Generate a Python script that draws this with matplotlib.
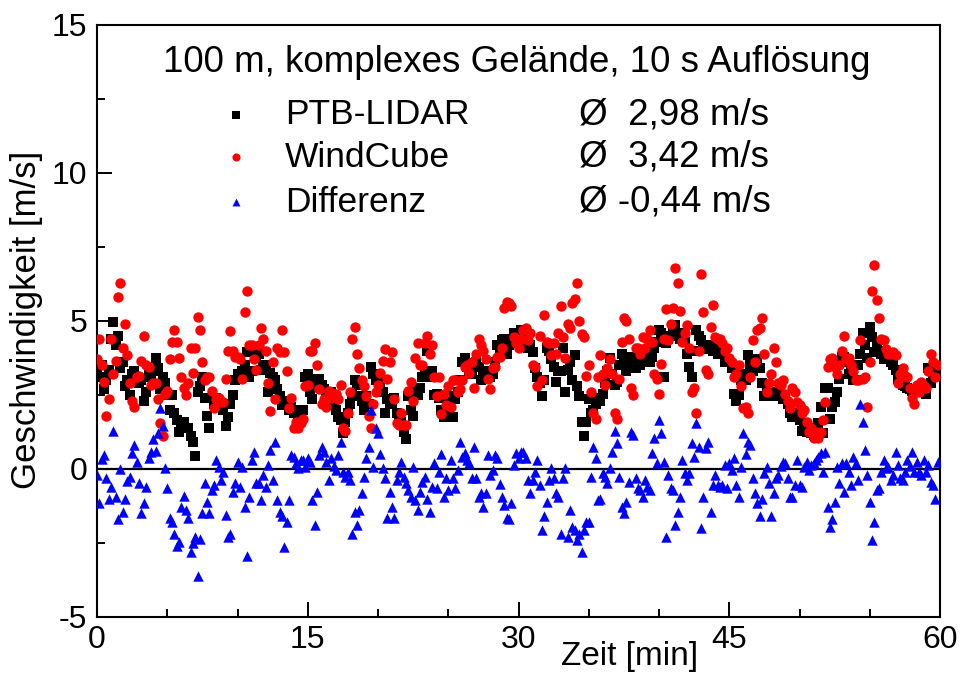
import numpy as np
import matplotlib
matplotlib.use("Agg")
import matplotlib.pyplot as plt
from matplotlib.ticker import MultipleLocator

plt.rcParams['font.family'] = ['Liberation Sans', 'DejaVu Sans']
plt.rcParams['axes.unicode_minus'] = False

# ---- data: 10 s resolution, 6 samples per minute ----
minutes = 60
samples_per_min = 6

ptb_lidar = [
    3.3, 3.1, 3.5, 2.7, 3.0, 3.35,   4.4, 4.97, 4.2, 4.5, 3.4, 3.6,
    2.8, 3.0, 2.5, 3.2, 3.3, 3.0,    2.9, 3.0, 2.3, 2.6, 3.2, 3.1,
    3.3, 3.75, 3.4, 2.7, 3.1, 2.9,   2.5, 2.0, 2.5, 1.9, 1.65, 1.25,
    1.55, 1.6, 1.4, 1.4, 1.1, 0.9,   0.45, 2.6, 2.8, 3.1, 2.4, 1.8,
    1.4, 2.4, 2.2, 2.4, 2.1, 2.2,    2.0, 1.45, 1.75, 2.2, 2.5, 3.0,
    3.2, 3.1, 3.3, 3.5, 3.95, 3.1,   3.3, 3.95, 3.75, 3.9, 3.35, 3.5,
    3.5, 2.6, 3.25, 3.1, 3.0, 2.7,   2.45, 2.15, 2.3, 2.2, 2.0, 2.1,
    1.9, 2.0, 1.8, 1.7, 2.0, 3.1,    3.2, 2.6, 2.35, 2.9, 3.05, 3.05,
    2.85, 2.7, 2.6, 2.4, 2.6, 2.3,   2.0, 1.75, 1.65, 1.2, 1.6, 1.9,
    2.2, 2.5, 3.0, 2.85, 2.45, 2.3,  2.0, 2.45, 2.2, 3.45, 3.2, 3.0,
    3.2, 2.9, 2.6, 1.9, 2.35, 2.2,   2.2, 2.4, 1.9, 1.7, 1.6, 1.25,
    1.0, 2.45, 2.0, 1.8, 2.75, 2.5,  2.75, 3.1, 3.25, 4.0, 3.1, 3.3,
    2.5, 2.55, 2.4, 2.0, 1.75, 1.9,  2.2, 2.45, 1.75, 2.35, 2.6, 3.0,
    3.6, 3.75, 3.45, 3.35, 3.2, 3.45, 3.6, 3.45, 3.0, 3.25, 3.3, 3.1,
    3.1, 3.2, 3.6, 4.2, 4.0, 4.35,   4.4, 3.9, 4.2, 4.3, 4.6, 4.5,
    4.6, 4.7, 4.4, 4.3, 4.1, 4.2,    3.95, 3.4, 3.1, 2.9, 2.45, 3.0,
    4.1, 4.0, 3.7, 3.45, 2.95, 3.3,  3.3, 4.1, 2.6, 3.35, 3.6, 3.0,
    3.85, 2.8, 2.45, 1.6, 1.1, 1.6,  2.35, 1.9, 2.0, 2.2, 2.4, 2.3,
    2.55, 2.9, 3.3, 3.75, 3.2, 2.85, 2.95, 3.5, 3.9, 3.6, 3.3, 3.8,
    3.8, 3.6, 3.4, 3.7, 3.5, 3.75,   3.75, 3.9, 3.6, 3.8, 4.1, 4.3,
    4.7, 4.6, 3.1, 4.25, 4.4, 4.5,   4.7, 4.85, 4.6, 4.4, 4.6, 4.3,
    3.9, 3.45, 3.1, 4.0, 4.7, 4.5,   4.35, 4.2, 4.1, 4.05, 4.2, 4.0,
    4.1, 3.9, 4.2, 3.9, 3.6, 3.7,    3.6, 3.4, 2.55, 2.3, 2.5, 3.0,
    3.2, 3.0, 3.85, 3.5, 3.3, 3.5,   3.7, 3.4, 2.9, 2.45, 2.6, 2.45,
    2.45, 2.55, 2.6, 2.45, 2.5, 2.35, 2.35, 2.2, 1.9, 1.75, 1.8, 1.9,
    1.65, 1.3, 1.5, 1.25, 1.4, 1.2,  1.15, 1.3, 1.55, 2.1, 1.2, 2.75,
    2.75, 1.7, 2.1, 2.25, 2.6, 3.05, 3.8, 3.8, 3.6, 3.2, 3.3, 3.0,
    3.0, 3.5, 3.9, 4.6, 4.2, 3.75,   4.8, 4.45, 3.95, 4.25, 4.0, 3.9,
    3.7, 3.8, 3.9, 3.6, 3.5, 3.35,   3.05, 3.0, 2.85, 2.8, 2.75, 2.7,
    2.65, 2.7, 2.65, 2.6, 2.75, 2.6, 2.55, 3.4, 2.9, 3.1, 3.3, 3.2,
]

windcube = [
    3.7, 4.4, 3.5, 2.95, 1.8, 2.35,  4.4, 3.2, 3.65, 5.8, 6.3, 4.1,
    4.9, 3.85, 2.9, 2.3, 2.1, 3.1,   3.15, 3.65, 4.5, 3.5, 3.45, 2.85,
    2.9, 2.9, 2.35, 1.55, 1.1, 2.55, 2.65, 3.7, 4.3, 4.7, 4.3, 3.75,
    3.1, 2.75, 2.5, 2.9, 4.1, 3.25,  4.1, 5.15, 4.7, 3.6, 3.0, 3.1,
    3.1, 2.65, 2.05, 2.35, 2.4, 2.25, 2.25, 3.05, 4.0, 4.65, 4.0, 3.8,
    3.8, 3.7, 3.05, 5.3, 6.0, 4.2,   4.2, 3.7, 3.35, 4.2, 4.75, 4.4,
    4.0, 2.9, 1.95, 3.6, 2.35, 4.1,  3.95, 4.7, 3.95, 3.3, 2.05, 2.4,
    1.4, 1.6, 1.4, 1.55, 1.7, 2.8,   2.85, 4.0, 4.0, 4.25, 3.5, 2.7,
    2.2, 2.35, 2.1, 2.65, 2.4, 2.55, 2.55, 2.35, 2.85, 1.4, 1.3, 1.9,
    2.6, 4.4, 4.8, 3.9, 3.4, 3.0,    2.8, 2.45, 1.8, 1.4, 2.2, 2.6,
    2.85, 3.25, 3.65, 4.05, 3.05, 3.6, 3.95, 2.35, 1.55, 1.5, 1.9, 1.5,
    1.5, 2.65, 2.95, 2.3, 3.75, 4.25, 3.5, 3.5, 4.25, 4.5, 3.9, 4.2,
    3.1, 2.45, 3.1, 1.85, 2.55, 2.15, 2.8, 2.1, 3.0, 3.0, 2.6, 2.7,
    3.0, 3.45, 3.5, 3.25, 3.6, 2.75, 3.9, 4.4, 4.2, 4.0, 3.7, 3.05,
    2.7, 3.4, 3.45, 3.8, 3.8, 4.1,   5.45, 5.65, 5.6, 5.5, 4.45, 4.25,
    4.1, 4.4, 4.7, 4.75, 4.35, 4.6,  3.5, 3.45, 2.8, 4.5, 3.0, 5.2,
    4.3, 4.25, 3.85, 4.25, 3.9, 4.6, 5.5, 4.45, 3.75, 4.9, 4.75, 5.6,
    5.75, 6.3, 5.0, 4.55, 4.45, 3.15, 3.5, 2.6, 1.9, 1.7, 3.1, 3.85,
    3.2, 2.85, 3.4, 3.7, 3.2, 1.9,   1.7, 3.05, 4.3, 5.1, 5.0, 4.4,
    2.75, 2.5, 4.1, 4.1, 3.9, 4.45,  4.1, 4.4, 4.7, 4.3, 3.2, 3.05,
    2.55, 3.55, 4.4, 5.4, 4.35, 4.9, 5.45, 6.8, 6.3, 5.35, 4.3, 4.6,
    4.85, 4.1, 2.6, 2.75, 1.9, 4.0,  6.6, 5.3, 3.35, 3.2, 4.8, 5.55,
    4.45, 4.4, 4.4, 4.25, 4.0, 4.1,  3.75, 3.6, 3.1, 3.2, 3.5, 2.8,
    2.05, 2.1, 1.9, 3.1, 4.35, 3.6,  4.7, 4.75, 5.1, 3.9, 2.6, 2.9,
    3.2, 4.1, 3.6, 2.9, 2.85, 3.0,   2.55, 2.3, 2.05, 2.75, 2.6, 2.25,
    2.15, 1.9, 2.0, 1.6, 1.25, 1.4,  1.05, 1.25, 1.05, 1.25, 1.65, 2.25,
    3.45, 3.7, 3.75, 3.45, 3.2, 3.5, 4.0, 4.5, 3.7, 3.75, 3.5, 3.3,
    3.0, 3.0, 4.35, 3.05, 3.1, 2.1,  3.6, 6.0, 6.9, 5.7, 5.1, 4.4,
    4.35, 4.05, 3.9, 3.9, 3.95, 3.85, 2.9, 3.2, 3.4, 3.15, 3.1, 2.75,
    2.4, 2.2, 2.85, 2.6, 2.95, 2.8,  2.75, 3.3, 3.9, 3.6, 3.1, 3.5,
]

differenz = [
    -0.2, -1.15, 0.35, 0.47, -0.3, -1.0,   -0.6, 1.3, -0.95, -1.7, 0.0, -1.45,
    -1.0, -0.4, -0.27, 0.54, 0.8, 0.24,    -0.48, -1.5, -1.15, -0.6, 0.37, 0.57,
    1.0, 0.6, 1.2, 2.05, 1.45, 0.03,       -0.65, -1.65, -1.8, -2.2, -2.6, -2.45,
    -1.3, -0.9, -1.4, -1.65, -2.8, -2.5,   -2.3, -3.6, -2.35, -1.5, -0.48, -1.1,
    -1.5, -0.7, -0.55, 0.3, 0.07, -0.37,   -0.1, -1.55, -2.3, -2.2, -0.78, -0.48,
    0.24, -0.6, 0.07, -1.3, -2.95, -0.95,  0.3, 0.57, -0.48, -0.48, -1.05, -0.2,
    -0.6, 0.13, 0.64, -0.37, 0.9, -1.05,   -1.45, -1.6, -2.65, -1.8, -1.05, 0.47,
    0.4, 0.2, 0.03, 0.3, 0.3, 0.07,        0.37, 0.24, -1.05, -1.9, -0.78, 0.47,
    0.74, 0.57, 0.24, -0.37, 0.37, 0.1,    -0.03, 0.47, 0.9, -0.1, -0.27, -0.1,
    -0.37, -2.2, -1.45, -1.9, -1.4, -0.8,  -0.27, 0.37, 0.74, 2.0, 0.07, 1.4,
    1.2, 0.5, 0.03, -0.3, -1.65, -0.78,    -1.3, -1.65, -0.37, -0.1, 0.24, -0.27,
    -0.48, -0.7, -0.95, 0.07, -1.05, -1.4, -0.78, -0.44, -0.27, -1.0, -1.45, -0.6,
    0.2, -0.64, -0.1, 0.5, -0.95, -0.3,    -0.7, 0.3, -0.3, -0.64, -0.03, 0.9,
    0.4, 0.54, 0.3, 0.2, -0.3, 0.74,       -0.3, -0.95, -0.8, -1.3, -0.8, 0.47,
    -0.2, -0.03, 0.47, 0.37, -0.5, -0.95,  -1.2, -1.65, -1.7, -1.15, 0.13, 0.54,
    0.37, 0.57, 0.57, 0.37, -0.37, -0.8,   -0.37, -0.1, 0.3, -0.55, -2.05, -1.6,
    -1.1, -0.37, 0.03, -0.3, -0.8, -0.95,  -2.2, -0.3, 0.03, -2.3, -1.4, -1.95,
    -2.05, -2.4, -2.2, -2.8, -2.05, -1.8,  -1.8, -0.27, 0.74, 0.37, -1.05, -1.0,
    -0.13, -0.27, -0.48, 0.03, 0.57, 1.3,  0.87, -0.27, -1.3, -1.5, -1.1, -0.44,
    1.25, 1.15, -0.3, -0.64, -0.7, -0.95,  -0.37, -0.6, -0.7, 0.54, 1.05, 0.2,
    1.65, 1.2, 0.24, -2.3, -0.2, -0.64,    -0.7, -1.9, -1.45, -0.95, 0.3, -0.13,
    -0.37, -0.13, 0.87, 0.4, 1.55, 0.74,   -2.0, -0.95, 0.7, 0.9, -1.45, -0.55,
    -0.2, -0.55, -0.6, -0.55, 0.13, -0.64, 0.2, -0.03, 0.37, -0.55, -0.95, 0.07,
    1.2, 0.5, 0.9, 0.8, -0.3, -0.8,        -1.15, -1.6, -1.0, -0.13, 0.07, -0.48,
    -1.6, -0.8, -0.3, -0.2, 0.1, 0.24,     0.2, -0.3, -0.95, -0.95, -0.55, 0.3,
    -0.55, -0.6, 0.07, 0.24, -0.03, 0.13,  0.2, 0.3, 0.4, 0.54, -0.1, 0.57,
    -1.3, -1.95, -1.7, -1.1, 0.07, -0.48,  0.2, -0.78, 0.2, -0.1, -0.55, 0.4,
    0.2, -0.37, 2.2, 1.6, 0.64, -0.2,      -1.1, -2.4, -1.8, -0.7, -0.64, -0.1,
    0.3, 0.03, 0.07, -0.37, -0.2, 0.57,    0.13, -0.3, -0.37, -0.1, 0.3, 0.1,
    0.57, -0.1, 0.24, -0.1, -0.2, 0.3,     -0.1, 0.13, -0.44, -0.55, -1.0, 0.24,
]

legend_names = ["PTB-LIDAR", "WindCube", "Differenz"]
legend_means = ["Ø  2,98 m/s", "Ø  3,42 m/s", "Ø -0,44 m/s"]
title_text = "100 m, komplexes Gelände, 10 s Auflösung"
x_label = "Zeit [min]"
y_label = "Geschwindigkeit [m/s]"
x_ticks = [0, 15, 30, 45, 60]
y_ticks = [-5, 0, 5, 10, 15]

time_min = np.arange(minutes * samples_per_min) / samples_per_min

# ---- figure ----
fig = plt.figure(figsize=(9.64, 6.75), dpi=100)
ax = fig.add_axes([97 / 964, 58 / 675, 843 / 964, 592 / 675])

ax.axhline(0, color="black", lw=1.6, zorder=1)
ax.scatter(time_min, ptb_lidar, marker="s", s=46, color="black", linewidths=0, zorder=2)
ax.scatter(time_min, windcube, marker="o", s=56, color="#ff0000", linewidths=0, zorder=3)
ax.scatter(time_min, differenz, marker="^", s=56, color="#0000ff", linewidths=0, zorder=4)

ax.set_xlim(0, 60)
ax.set_ylim(-5, 15)
ax.set_xticks(x_ticks)
ax.set_yticks(y_ticks)
ax.xaxis.set_minor_locator(MultipleLocator(5))
ax.yaxis.set_minor_locator(MultipleLocator(2.5))
ax.tick_params(axis="both", which="both", direction="in", top=False, right=False,
               width=1.4, labelsize=23)
ax.tick_params(axis="both", which="major", length=11)
ax.tick_params(axis="both", which="minor", length=6)
ax.tick_params(axis="x", pad=6)
ax.tick_params(axis="y", pad=7)
for sp in ax.spines.values():
    sp.set_linewidth(1.5)

ax.set_xlabel(x_label, fontsize=24)
ax.xaxis.set_label_coords((630 - 97) / 843, -(657 - 617) / 592)
ax.xaxis.label.set_verticalalignment("center")
ax.set_ylabel(y_label, fontsize=25)
ax.yaxis.set_label_coords((27 - 97) / 843, (617 - 320) / 592)
ax.yaxis.label.set_verticalalignment("center")

def axfrac(px, py):
    return (px - 97) / 843, (617 - py) / 592

tx, ty = axfrac(517, 62)
ax.text(tx, ty, title_text, transform=ax.transAxes, ha="center", va="center", fontsize=26.5)

markers = [("s", "black", 30), ("o", "#ff0000", 34), ("^", "#0000ff", 32)]
rows_y = [115, 157, 202]
for (mk, col, sz), name, mean, py in zip(markers, legend_names, legend_means, rows_y):
    mx, my = axfrac(236, py)
    ax.scatter([mx], [my], marker=mk, s=sz, color=col, linewidths=0,
               transform=ax.transAxes, clip_on=False, zorder=5)
    lx, ly = axfrac(285, py)
    ax.text(lx, ly, name, transform=ax.transAxes, ha="left", va="center", fontsize=25.5)
    vx, vy = axfrac(579, py)
    ax.text(vx, vy, mean, transform=ax.transAxes, ha="left", va="center", fontsize=26.5)

fig.savefig("out.png", dpi=100)
